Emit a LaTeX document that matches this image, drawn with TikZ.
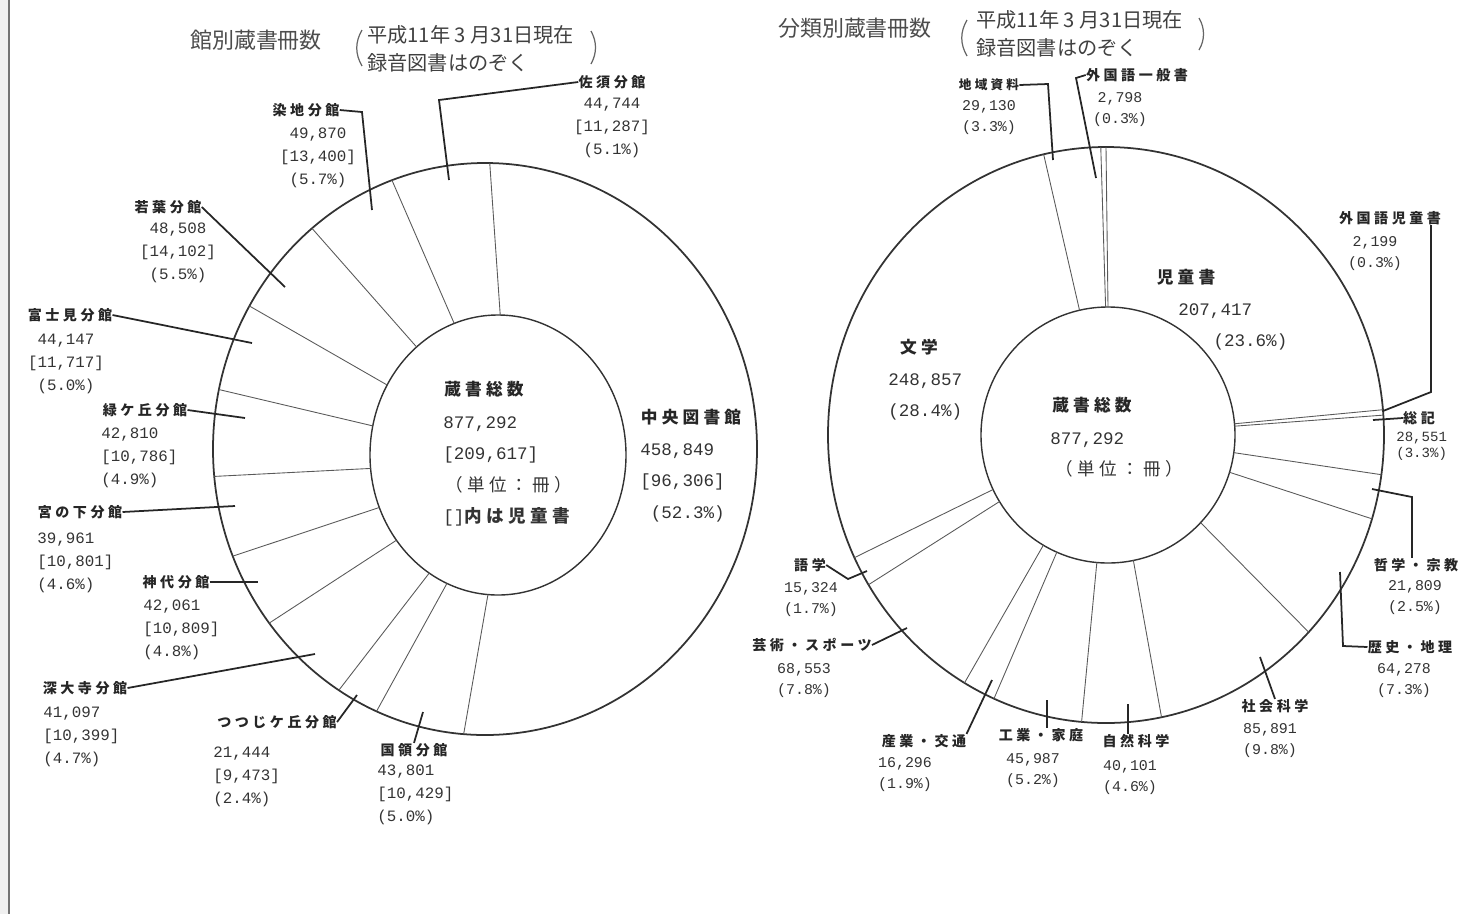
\documentclass[tikz,border=0pt]{standalone}
\usepackage{fontspec}
\setmainfont{Noto Sans CJK JP}
\setmonofont{Liberation Mono}
\newfontfamily\jpfont[LetterSpace=25]{Noto Sans CJK JP}
\usetikzlibrary{positioning}

\tikzset{
  ring/.style={black!80, line width=1pt},
  hub/.style={black!80, line width=0.8pt},
  spoke/.style={black!65, line width=0.5pt},
  lead/.style={black!85, line width=1pt},
  paren/.style={black!60, line width=0.7pt},
  title/.style={inner sep=0pt, text=black!70, font=\fontsize{12.5}{16}\selectfont},
  note/.style={inner sep=0pt, align=left, text=black!75, font=\fontsize{11.5}{16}\selectfont},
  lbl/.style={inner sep=0pt, text=black!85, font=\jpfont\bfseries\fontsize{8}{10}\selectfont},
  biglbl/.style={inner sep=0pt, text=black!85, font=\jpfont\bfseries\fontsize{9.5}{12}\selectfont},
  figs/.style={inner sep=0pt, align=center, anchor=north, text=black!80, font=\ttfamily\fontsize{9}{13}\selectfont},
  lfigs/.style={figs, align=left, anchor=north west},
  sfigs/.style={figs, font=\ttfamily\fontsize{8.5}{12}\selectfont},
  bigfigs/.style={figs, align=left, anchor=north west, font=\ttfamily\fontsize{10}{18}\selectfont},
}

\begin{document}
\begin{tikzpicture}[x=0.02cm, y=-0.02cm]
\useasboundingbox (0,0) rectangle (1478,914);

% page edge
\fill[black!6] (0,0) rectangle (8,914);
\draw[black!55, line width=1.2pt] (9,0) -- (9,914);

%%%%%%%%%% left: by library
\node[title] (ltit) at (256,40) {館別蔵書冊数};
\node[note, anchor=west] (lnote) at (367,49) {平成11年 3 月31日現在\\録音図書はのぞく};
\draw[paren] (362,30) .. controls (355,42) and (355,54) .. (362,66);
\draw[paren] (591,31) .. controls (597,42) and (597,53) .. (591,64);

\draw[ring] (485,449) ellipse [x radius=272, y radius=286];
\draw[hub] (498,455) ellipse [x radius=128, y radius=140];

% spokes
\draw[spoke] ([shift={(498,455)}]-89:128 and 140) -- ([shift={(485,449)}]-89:272 and 286);
\draw[spoke] ([shift={(498,455)}]94.5:128 and 140) -- ([shift={(485,449)}]94.5:272 and 286);
\draw[spoke] ([shift={(498,455)}]113.5:128 and 140) -- ([shift={(485,449)}]113.5:272 and 286);
\draw[spoke] ([shift={(498,455)}]122.5:128 and 140) -- ([shift={(485,449)}]122.5:272 and 286);
\draw[spoke] ([shift={(498,455)}]142.5:128 and 140) -- ([shift={(485,449)}]142.5:272 and 286);
\draw[spoke] ([shift={(498,455)}]158:128 and 140) -- ([shift={(485,449)}]158:272 and 286);
\draw[spoke] ([shift={(498,455)}]174.5:128 and 140) -- ([shift={(485,449)}]174.5:272 and 286);
\draw[spoke] ([shift={(498,455)}]192:128 and 140) -- ([shift={(485,449)}]192:272 and 286);
\draw[spoke] ([shift={(498,455)}]210:128 and 140) -- ([shift={(485,449)}]210:272 and 286);
\draw[spoke] ([shift={(498,455)}]230.5:128 and 140) -- ([shift={(485,449)}]230.5:272 and 286);
\draw[spoke] ([shift={(498,455)}]250:128 and 140) -- ([shift={(485,449)}]250:272 and 286);

% centre
\node[biglbl] (ltot) at (484,389) {蔵書総数};
\node[bigfigs] (ltotv) at (443,416) {877,292\\{[}209,617]\\\hspace*{1pt}{\jpfont （単位：冊）}\\{[}]{\jpfont\bfseries 内は児童書}};
\node[biglbl] (chuo) at (691,417) {中央図書館};
\node[bigfigs] (chuov) at (640,443) {458,849\\{[}96,306]\\\hspace*{6pt}(52.3\%)};

% branches
\node[lbl] (ss) at (612,82) {佐須分館};
\node[figs] (ssv) at (612,98) {44,744\\{[}11,287]\\(5.1\%)};
\node[lbl] (sd) at (306,110) {染地分館};
\node[figs] (sdv) at (318,128) {49,870\\{[}13,400]\\(5.7\%)};
\node[lbl] (wb) at (168,207) {若葉分館};
\node[figs] (wbv) at (178,223) {48,508\\{[}14,102]\\(5.5\%)};
\node[lbl] (fj) at (70,315) {富士見分館};
\node[figs] (fjv) at (66,334) {44,147\\{[}11,717]\\(5.0\%)};
\node[lbl] (mg) at (145,410) {緑ケ丘分館};
\node[lfigs] (mgv) at (101,428) {42,810\\{[}10,786]\\(4.9\%)};
\node[lbl] (mn) at (80,512) {宮の下分館};
\node[lfigs] (mnv) at (37,533) {39,961\\{[}10,801]\\(4.6\%)};
\node[lbl] (jd) at (176,582) {神代分館};
\node[lfigs] (jdv) at (143,600) {42,061\\{[}10,809]\\(4.8\%)};
\node[lbl] (jj) at (85,688) {深大寺分館};
\node[lfigs] (jjv) at (43,707) {41,097\\{[}10,399]\\(4.7\%)};
\node[lbl] (tt) at (277,722) {つつじケ丘分館};
\node[lfigs] (ttv) at (213,747) {21,444\\{[}9,473]\\(2.4\%)};
\node[lbl] (kr) at (414,750) {国領分館};
\node[lfigs] (krv) at (377,765) {43,801\\{[}10,429]\\(5.0\%)};

\coordinate (ssk) at (439,100); \coordinate (ssp) at (449,180);
\coordinate (sdk) at (362,112); \coordinate (sdp) at (372,210);
\coordinate (wbp) at (285,287);
\coordinate (fjp) at (252,343);
\coordinate (mgp) at (245,418);
\coordinate (mnp) at (235,506);
\coordinate (jdp) at (258,582);
\coordinate (jjp) at (315,654);
\coordinate (ttp) at (357,695);
\coordinate (krp) at (423,712);

\draw[lead] (ss.west) -- (ssk) -- (ssp);
\draw[lead] (sd.east) -- (sdk) -- (sdp);
\draw[lead] (wb.east) -- (wbp);
\draw[lead] (fj.east) -- (fjp);
\draw[lead] (mg.east) -- (mgp);
\draw[lead] (mn.east) -- (mnp);
\draw[lead] (jd.east) -- (jdp);
\draw[lead] (jj.east) -- (jjp);
\draw[lead] (tt.east) -- (ttp);
\draw[lead] (kr.north) -- (krp);

%%%%%%%%%% right: by class
\node[title] (rtit) at (855,28) {分類別蔵書冊数};
\node[note, anchor=west] (rnote) at (976,34) {平成11年 3 月31日現在\\録音図書はのぞく};
\draw[paren] (967,20) .. controls (960,32) and (960,44) .. (967,56);
\draw[paren] (1199,18) .. controls (1205,28) and (1205,40) .. (1199,50);

\draw[ring] (1106,435) ellipse [x radius=278, y radius=288];
\draw[hub] (1108,435) ellipse [x radius=127, y radius=128];

% spokes
\draw[spoke] ([shift={(1108,435)}]-90:127 and 128) -- ([shift={(1106,435)}]-90:278 and 288);
\draw[spoke] ([shift={(1108,435)}]-91.08:127 and 128) -- ([shift={(1106,435)}]-91.08:278 and 288);
\draw[spoke] ([shift={(1108,435)}]-102.96:127 and 128) -- ([shift={(1106,435)}]-102.96:278 and 288);
\draw[spoke] ([shift={(1108,435)}]-205.2:127 and 128) -- ([shift={(1106,435)}]-205.2:278 and 288);
\draw[spoke] ([shift={(1108,435)}]-211.32:127 and 128) -- ([shift={(1106,435)}]-211.32:278 and 288);
\draw[spoke] ([shift={(1108,435)}]-239.4:127 and 128) -- ([shift={(1106,435)}]-239.4:278 and 288);
\draw[spoke] ([shift={(1108,435)}]-246.24:127 and 128) -- ([shift={(1106,435)}]-246.24:278 and 288);
\draw[spoke] ([shift={(1108,435)}]-264.96:127 and 128) -- ([shift={(1106,435)}]-264.96:278 and 288);
\draw[spoke] ([shift={(1108,435)}]-281.52:127 and 128) -- ([shift={(1106,435)}]-281.52:278 and 288);
\draw[spoke] ([shift={(1108,435)}]-316.8:127 and 128) -- ([shift={(1106,435)}]-316.8:278 and 288);
\draw[spoke] ([shift={(1108,435)}]-343.08:127 and 128) -- ([shift={(1106,435)}]-343.08:278 and 288);
\draw[spoke] ([shift={(1108,435)}]-352.08:127 and 128) -- ([shift={(1106,435)}]-352.08:278 and 288);
\draw[spoke] ([shift={(1108,435)}]-3.96:127 and 128) -- ([shift={(1106,435)}]-3.96:278 and 288);
\draw[spoke] ([shift={(1108,435)}]-5.04:127 and 128) -- ([shift={(1106,435)}]-5.04:278 and 288);

% centre and big classes
\node[biglbl] (rtot) at (1092,405) {蔵書総数};
\node[bigfigs] (rtotv) at (1050,432) {877,292\\\hspace*{3pt}{\jpfont （単位：冊）}};
\node[biglbl] (jc) at (1186,277) {児童書};
\node[bigfigs] (jcv) at (1178,303) {\hspace*{0pt}207,417\\\hspace*{20pt}(23.6\%)};
\node[biglbl] (bg) at (919,347) {文学};
\node[bigfigs] (bgv) at (888,373) {248,857\\(28.4\%)};

% classes
\node[lbl, scale=0.9] (cy) at (989,85) {地域資料};
\node[sfigs] (cyv) at (989,100) {29,130\\(3.3\%)};
\node[lbl] (fg) at (1137,75) {外国語一般書};
\node[sfigs] (fgv) at (1120,92) {2,798\\(0.3\%)};
\node[lbl] (fc) at (1390,218) {外国語児童書};
\node[sfigs] (fcv) at (1375,236) {2,199\\(0.3\%)};
\node[lbl] (sk) at (1419,418) {総記};
\node[sfigs, align=left, anchor=north west, font=\ttfamily\fontsize{8}{9}\selectfont] (skv) at (1396,432) {28,551\\(3.3\%)};
\node[lbl] (ts) at (1416,565) {哲学・宗教};
\node[sfigs] (tsv) at (1415,580) {21,809\\(2.5\%)};
\node[lbl] (rc) at (1410,647) {歴史・地理};
\node[sfigs] (rcv) at (1404,663) {64,278\\(7.3\%)};
\node[lbl] (sh) at (1275,706) {社会科学};
\node[sfigs] (shv) at (1270,723) {85,891\\(9.8\%)};
\node[lbl] (sz) at (1136,741) {自然科学};
\node[sfigs] (szv) at (1130,760) {40,101\\(4.6\%)};
\node[lbl] (kg) at (1041,735) {工業・家庭};
\node[sfigs] (kgv) at (1033,753) {45,987\\(5.2\%)};
\node[lbl] (sg) at (924,741) {産業・交通};
\node[sfigs] (sgv) at (905,757) {16,296\\(1.9\%)};
\node[lbl] (gj) at (812,645) {芸術・スポーツ};
\node[sfigs] (gjv) at (804,663) {68,553\\(7.8\%)};
\node[lbl] (gg) at (810,565) {語学};
\node[sfigs] (ggv) at (811,582) {15,324\\(1.7\%)};

\coordinate (cyk) at (1048,84); \coordinate (cyp) at (1053,160);
\coordinate (fgk) at (1076,78); \coordinate (fgp) at (1096,178);
\coordinate (fck) at (1431,392); \coordinate (fcp) at (1383,411);
\coordinate (skp) at (1373,420);
\coordinate (tsk) at (1412,497); \coordinate (tsp) at (1372,489);
\coordinate (rck) at (1343,646); \coordinate (rcp) at (1340,572);
\coordinate (shp) at (1260,657);
\coordinate (szp) at (1128,704);
\coordinate (kgp) at (1047,700);
\coordinate (sgp) at (992,680);
\coordinate (gjp) at (907,628);
\coordinate (ggk) at (848,579); \coordinate (ggp) at (867,571);

\draw[lead] (cy.east) -- (cyk) -- (cyp);
\draw[lead] (fg.west) -- (fgk) -- (fgp);
\draw[lead] (fc.south -| fck) -- (fck) -- (fcp);
\draw[lead] (sk.west) -- (skp);
\draw[lead] (ts.north -| tsk) -- (tsk) -- (tsp);
\draw[lead] (rc.west) -- (rck) -- (rcp);
\draw[lead] (sh.north) -- (shp);
\draw[lead] (sz.north -| szp) -- (szp);
\draw[lead] (kg.north -| kgp) -- (kgp);
\draw[lead] (sg.north east) -- (sgp);
\draw[lead] (gj.east) -- (gjp);
\draw[lead] (gg.east) -- (ggk) -- (ggp);

\end{tikzpicture}
\end{document}
